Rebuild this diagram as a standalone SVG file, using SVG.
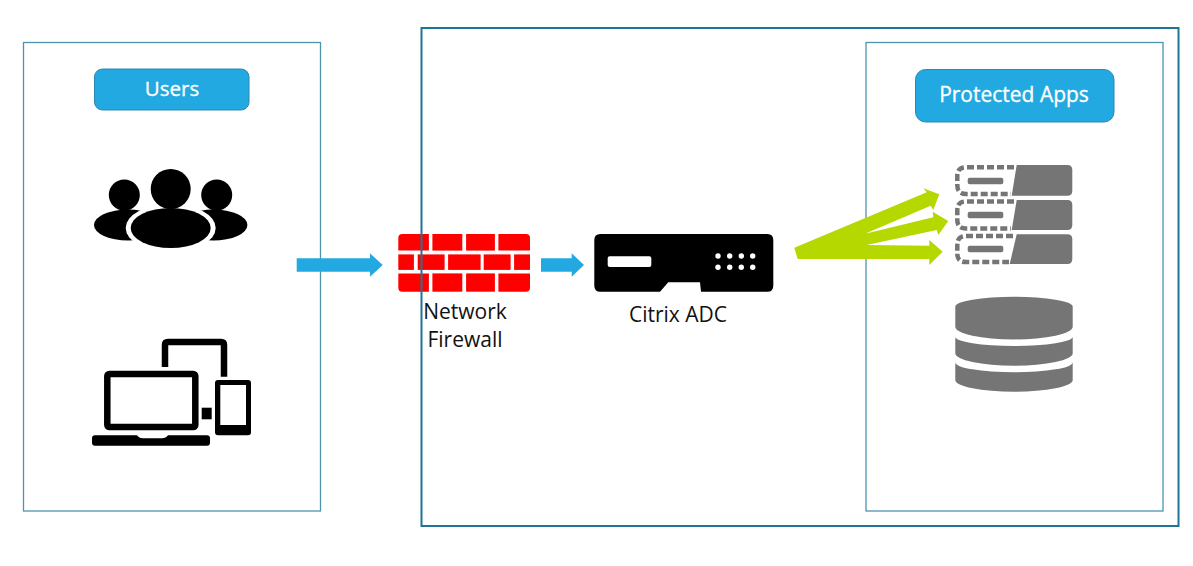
<svg xmlns="http://www.w3.org/2000/svg" width="1193" height="566" viewBox="0 0 1193 566">
<style>
text{font-family:"Open Sans","Noto Sans","Liberation Sans",sans-serif;text-anchor:middle}
.frame{fill:none;stroke:#4f93af;stroke-width:1.3}
.outer{fill:none;stroke:#1f7596;stroke-width:2}
.pill{fill:#23a9e1;stroke:#2b88b3;stroke-width:1}
.pt{fill:#fff;stroke:#fff;stroke-width:.3}
.lb{fill:#111;font-size:21px}
.g{fill:#757575}
.brick{fill:#fe0000}
.dash{fill:none;stroke:#757575;stroke-width:4.500;stroke-dasharray:7 3}
.blue{fill:#23a9e1}
.green{fill:#b5d900}
</style>
<rect width="1193" height="566" fill="#fff"/>
<g id="firewall">
<g class="brick">
<path d="M402.300 234H428.900V250.600H398.300V238Q398.300 234 402.300 234Z"/>
<rect x="432.400" y="234" width="29.900" height="16.600"/><rect x="466.100" y="234" width="28.800" height="16.600"/>
<path d="M498.400 234H526Q530 234 530 238V250.600H498.400Z"/>
<rect x="398.300" y="254.400" width="15.600" height="15.500"/><rect x="417.700" y="254.400" width="26.900" height="15.500"/><rect x="448.100" y="254.400" width="32.500" height="15.500"/><rect x="483.700" y="254.400" width="26.900" height="15.500"/><rect x="514.100" y="254.400" width="15.900" height="15.500"/>
<path d="M398.300 273.400H428.900V291.700H402.300Q398.300 291.700 398.300 287.700Z"/>
<rect x="432.400" y="273.400" width="29.900" height="18.300"/><rect x="466.100" y="273.400" width="28.800" height="18.300"/>
<path d="M498.400 273.400H530V287.700Q530 291.700 526 291.700H498.400Z"/>
</g>
<text class="lb" x="465" y="319">Network</text>
<text class="lb" x="465" y="346.700">Firewall</text>
</g>
<g id="frames">
<rect class="frame" x="23.500" y="42.500" width="297" height="468.500"/>
<rect class="outer" x="421.500" y="28" width="757" height="498"/>
<rect class="frame" x="866" y="42.500" width="297" height="468.500"/>
</g>
<g id="users-label"><rect class="pill" x="94.500" y="69" width="154.500" height="41" rx="8"/><text class="pt" x="172" y="96" font-size="20.500">Users</text></g>
<g id="apps-label"><rect class="pill" x="915.500" y="69.500" width="198.500" height="52.500" rx="10"/><text class="pt" x="1014" y="102" font-size="21">Protected Apps</text></g>
<g id="users">
<ellipse cx="128" cy="225" rx="34" ry="15.500"/><ellipse cx="213.400" cy="225" rx="34" ry="15.500"/>
<ellipse cx="170.700" cy="228" rx="45" ry="24" fill="#fff"/>
<circle cx="170.700" cy="189" r="20"/><circle cx="124.300" cy="195" r="15.500"/><circle cx="216.700" cy="195" r="15.500"/>
<ellipse cx="170.700" cy="228" rx="40" ry="20"/>
</g>
<g id="devices">
<path d="M165 367V345Q165 342 168 342H221Q224 342 224 345V376.700" fill="none" stroke="#000" stroke-width="6.500"/>
<rect x="107.300" y="374" width="88" height="53" rx="2" fill="none" stroke="#000" stroke-width="6.500"/>
<path d="M95 435.300H137Q139 438.300 143 438.300H162Q166 438.300 168 435.300H207Q210 435.300 210 438.300V442.700Q210 445.700 207 445.700H95Q92 445.700 92 442.700V438.300Q92 435.300 95 435.300Z"/>
<rect x="201.700" y="407.700" width="10" height="11.600"/>
<path fill-rule="evenodd" d="M218 380H248Q251 380 251 383V432.300Q251 435.300 248 435.300H218Q215 435.300 215 432.300V383Q215 380 218 380ZM220.300 385V425H246V385Z"/>
</g>
<g id="citrix-adc">
<path d="M600.300 234H767.300Q773.300 234 773.300 240V285.700Q773.300 291.700 767.300 291.700H701L700 282.300H668.300L660 291.700H600.300Q594.300 291.700 594.300 285.700V240Q594.300 234 600.300 234Z"/>
<rect x="607.700" y="256.300" width="43.600" height="10.700" rx="2" fill="#fff"/>
<g fill="#fff"><circle cx="718" cy="256" r="2.700"/><circle cx="729.700" cy="256" r="2.700"/><circle cx="741.300" cy="256" r="2.700"/><circle cx="752.700" cy="256" r="2.700"/><circle cx="718" cy="267.300" r="2.700"/><circle cx="729.700" cy="267.300" r="2.700"/><circle cx="741.300" cy="267.300" r="2.700"/><circle cx="752.700" cy="267.300" r="2.700"/></g>
<text class="lb" x="678" y="321.700">Citrix ADC</text>
</g>
<g id="app-servers">
<path class="g" d="M1016.700 165H1067.300Q1072.300 165 1072.300 170V190.700Q1072.300 195.700 1067.300 195.700H1011.700Z"/>
<path class="g" d="M1016.700 200H1067.300Q1072.300 200 1072.300 205V225Q1072.300 230 1067.300 230H1011.700Z"/>
<path class="g" d="M1016.700 234.300H1067.300Q1072.300 234.300 1072.300 239.300V259Q1072.300 264 1067.300 264H1009.700Z"/>
<path class="dash" d="M1014 167.300H966Q957.300 167.300 957.300 176V185Q957.300 194 966 194H1011"/>
<path class="dash" d="M1014 201.500H966Q957.300 201.500 957.300 210V220Q957.300 228.500 966 228.500H1011"/>
<path class="dash" d="M1013 236H966Q957.300 236 957.300 244.500V253.500Q957.300 262 966 262H1009"/>
<rect class="g" x="967.700" y="177.700" width="35.600" height="6.600" rx="2"/>
<rect class="g" x="967.700" y="211.700" width="35.600" height="6.600" rx="2"/>
<rect class="g" x="967.700" y="245.700" width="35.600" height="6.600" rx="2"/>
</g>
<g id="database" class="g">
<path d="M955.300 306.700A58.700 10 0 0 1 1072.700 306.700V326.700A58.700 12.700 0 0 1 955.300 326.700Z"/>
<path d="M955.300 336.700A58.700 9.300 0 0 0 1072.700 336.700V353.300A58.700 12.400 0 0 1 955.300 353.300Z"/>
<path d="M955.300 362.300A58.700 10 0 0 0 1072.700 362.300V380A58.700 11.700 0 0 1 955.300 380Z"/>
</g>
<g id="connectors">
<path class="blue" d="M296.700 258.300H370V253.300L382.700 265L370 276.700V271.700H296.700Z"/>
<path class="blue" d="M541 258.300H571.700V253.300L584 265L571.700 276.700V271.700H541Z"/>
<polygon class="green" points="794.300,247.700 926.700,192.300 923.300,188.300 939.300,194.300 933.300,210 930.700,205.700 865,233.700 933.300,217.300 932.700,211.700 948.300,221 938.300,235 936.700,230 866.700,245 929.300,245.700 929.300,240 942.700,251.700 929.300,265 929.300,259 797.700,259"/>
</g>
</svg>
